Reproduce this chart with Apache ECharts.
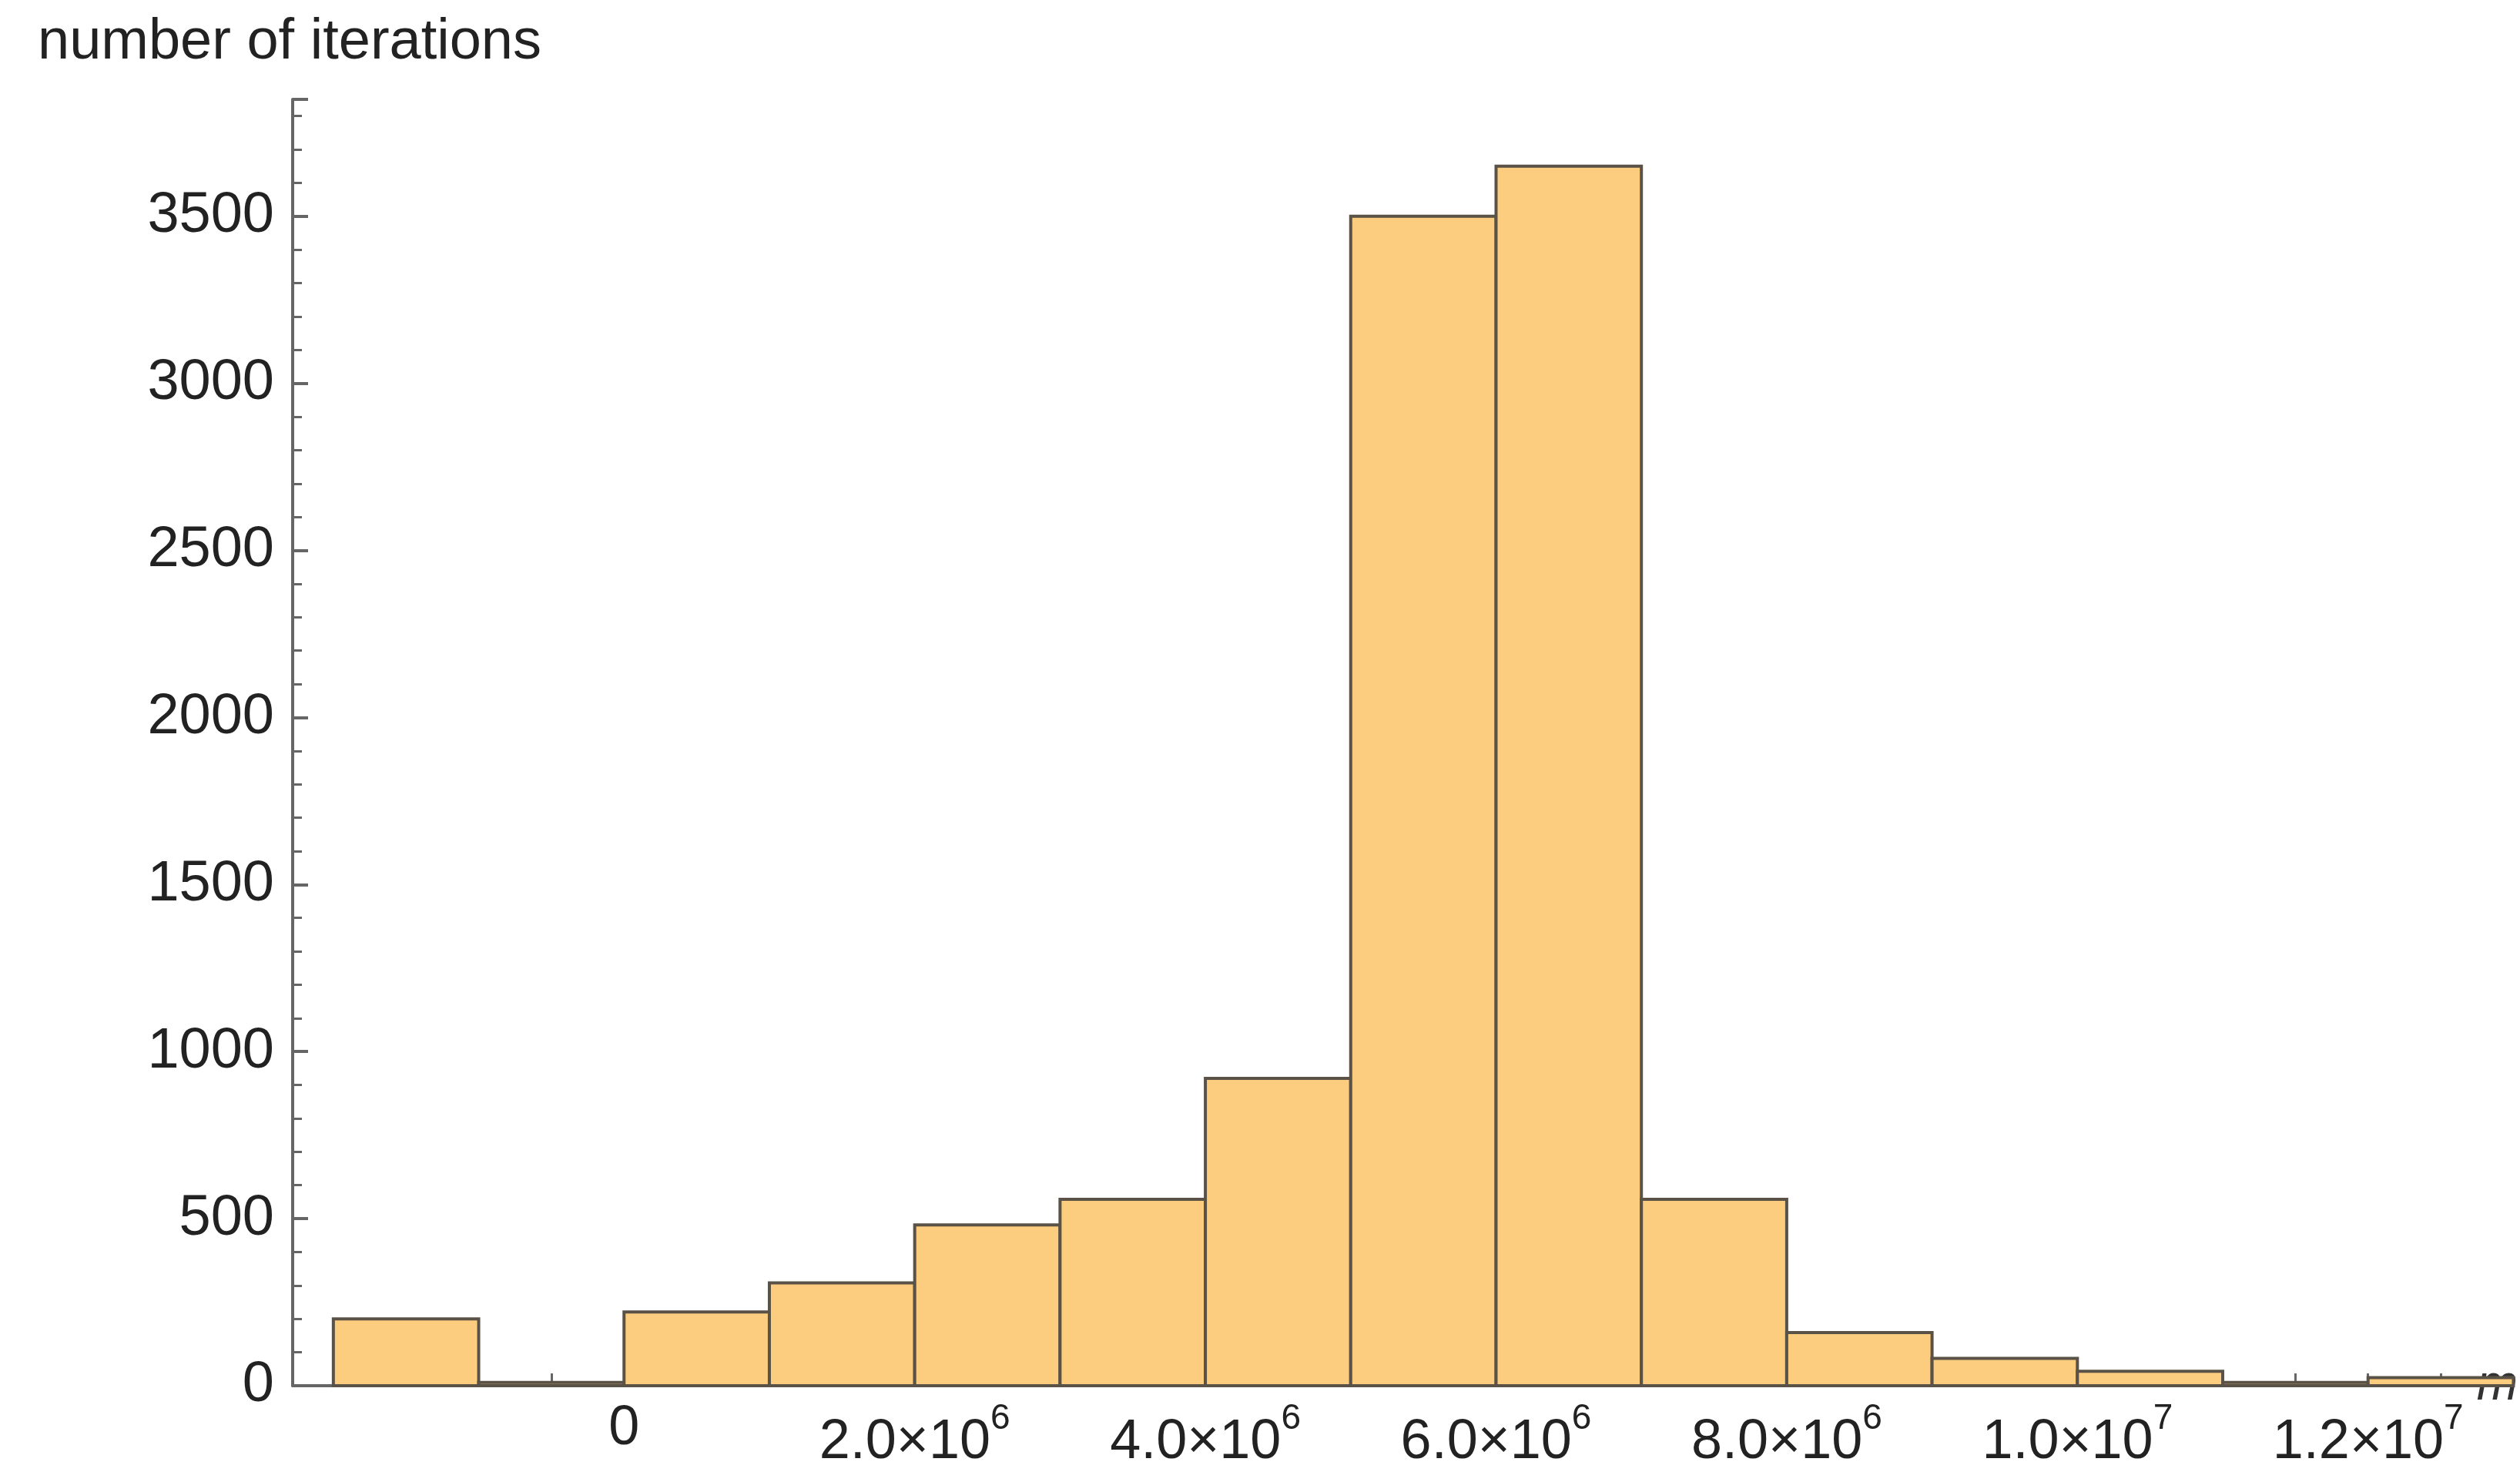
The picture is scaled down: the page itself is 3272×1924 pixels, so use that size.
<!DOCTYPE html>
<html><head><meta charset="utf-8">
<script src="https://cdn.jsdelivr.net/npm/echarts@6/dist/echarts.min.js"></script>
<style>html,body{margin:0;padding:0;background:#fff}#c{width:3272px;height:1924px}</style>
</head><body><div id="c"></div>
<script>
const binStarts = [-2e6,-1e6,0,1e6,2e6,3e6,4e6,5e6,6e6,7e6,8e6,9e6,10e6,11e6,12e6];
const binWidth = 1e6;
const counts = [200,10,221,308,481,558,920,3500,3650,558,159,82,43,10,24];
const xLabelValues = [0,2e6,4e6,6e6,8e6,10e6,12e6];
const xLabelText = {0:'0',2e6:'2.0',4e6:'4.0',6e6:'6.0',8e6:'8.0',10e6:'1.0',12e6:'1.2'};
const xLabelExp = {2e6:'6',4e6:'6',6e6:'6',8e6:'6',10e6:'7',12e6:'7'};

const data = binStarts.map((s,i)=>[s, s+binWidth, counts[i]]);
const tickVals = [];
for (let v=-2e6; v<=12.5e6; v+=5e5) tickVals.push(v);

const chart = echarts.init(document.getElementById('c'));
const font = 'Liberation Sans, Arial, sans-serif';
chart.setOption({
  animation:false,
  title:{text:'number of iterations',left:44,top:14,textStyle:{fontFamily:font,fontSize:74,fontWeight:'normal',color:'#222'}},
  grid:{left:380,right:37,top:129,bottom:125,containLabel:false},
  xAxis:{type:'value',min:-2.28e6,max:12.8e6,
    name:'m',nameLocation:'end',nameGap:-10,
    nameTextStyle:{fontFamily:font,fontSize:64,fontStyle:'italic',color:'#333',verticalAlign:'middle'},
    axisLine:{onZero:false,lineStyle:{color:'#666',width:4}},
    axisTick:{inside:true,length:16,lineStyle:{color:'#666',width:3},customValues:tickVals},
    splitLine:{show:false},
    axisLabel:{customValues:xLabelValues,margin:20,fontFamily:font,fontSize:72,color:'#222',
      formatter:v=>{ if(v===0) return '{b|0}'; return '{b|'+xLabelText[v]+'×10}{s|'+xLabelExp[v]+'}'; },
      rich:{b:{fontFamily:font,fontSize:72,color:'#222',verticalAlign:'bottom'},s:{fontFamily:font,fontSize:46,color:'#222',verticalAlign:'top',padding:[0,0,44,0]}}}
  },
  yAxis:{type:'value',min:0,max:3850,interval:500,
    axisLine:{show:true,onZero:false,lineStyle:{color:'#666',width:4}},
    axisTick:{inside:true,length:20,lineStyle:{color:'#666',width:4}},
    minorTick:{show:true,splitNumber:5,length:12,lineStyle:{color:'#666',width:3}},
    splitLine:{show:false},
    axisLabel:{margin:24,fontFamily:font,fontSize:74,color:'#222',showMaxLabel:false,formatter:v=>String(v)}
  },
  series:[{type:'custom',data:data,encode:{x:[0,1],y:2},
    renderItem:(params,api)=>{
      const p0=api.coord([api.value(0),api.value(2)]);
      const p1=api.coord([api.value(1),0]);
      return {type:'rect',shape:{x:p0[0],y:p0[1],width:p1[0]-p0[0],height:p1[1]-p0[1]},
        style:{fill:'#FCCD7E',stroke:'#5a5246',lineWidth:4}};
    }}]
});
</script></body></html>
